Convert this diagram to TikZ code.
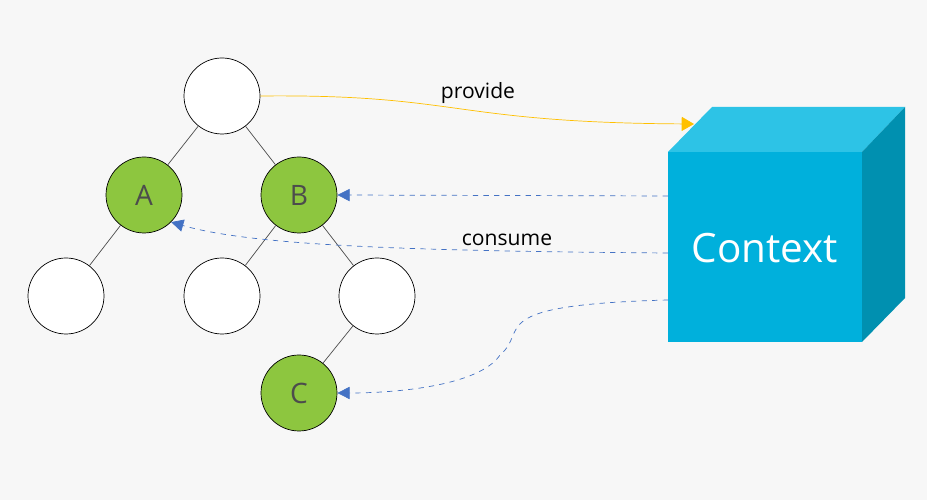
\documentclass[tikz,border=0pt]{standalone}
\usetikzlibrary{positioning,arrows.meta}
\usepackage{fontspec}
\setmainfont{Open Sans}
\definecolor{leaf}{RGB}{141,198,63}
\definecolor{cubefront}{RGB}{0,176,220}
\definecolor{cubetop}{RGB}{45,195,230}
\definecolor{cubeside}{RGB}{0,144,176}
\definecolor{provideline}{RGB}{255,192,0}
\definecolor{consumeline}{RGB}{68,114,196}
\begin{document}
\begin{tikzpicture}[
        treenode/.style={circle, draw, fill=white, minimum size=15.2mm, inner sep=0pt, font=\fontsize{16}{18}\selectfont, text=black!70},
        usenode/.style={treenode, fill=leaf},
        edge/.style={-, draw=black!70},
        provideline/.style={draw=provideline, -{Triangle[length=7pt,width=8pt]}},
        consumeline/.style={draw=consumeline, dashed, -{Triangle[length=7pt,width=7pt]}}
      ]
      \fill[gray!6] (0,0) rectangle (18.54,10);

      % Tree
      \node[treenode] (R)  at (4.44,8.08) {};
      \node[usenode]  (A)  at (2.88,6.10) {A};
      \node[usenode]  (B)  at (5.98,6.10) {B};
      \node[treenode] (AL) at (1.32,4.08) {};
      \node[treenode] (BL) at (4.44,4.08) {};
      \node[treenode] (BR) at (7.54,4.08) {};
      \node[usenode]  (C)  at (5.98,2.14) {C};

      \draw[edge] (R) -- (A);
      \draw[edge] (R) -- (B);
      \draw[edge] (A) -- (AL);
      \draw[edge] (B) -- (BL);
      \draw[edge] (B) -- (BR);
      \draw[edge] (BR) -- (C);

      % Context cube
      \fill[cubetop] (13.36,6.96) -- (14.24,7.86) -- (18.10,7.86) -- (17.24,6.96) -- cycle;
      \fill[cubeside] (17.24,6.96) -- (18.10,7.86) -- (18.10,4.04) -- (17.24,3.16) -- cycle;
      \fill[cubefront] (13.36,3.16) rectangle (17.24,6.96);
      \node[text=white, font=\fontsize{23}{26}\selectfont] (ctx) at (15.30,5.04) {Context};

      \coordinate (pin)  at (13.88,7.52);
      \coordinate (outB) at (13.36,6.08);
      \coordinate (outA) at (13.36,4.94);
      \coordinate (outC) at (13.36,4.00);

      % Provide
      \draw[provideline] (R.east) .. controls (9.2,8.12) and (9.0,7.55) .. (pin);
      \node[font=\fontsize{12}{14}\selectfont] (provide) at (9.56,8.14) {provide};

      % Consume
      \draw[consumeline] (outB) -- (B.east);
      \draw[consumeline] (outA) .. controls (8,4.98) and (5,5.1) .. (A.south east);
      \node[font=\fontsize{12}{14}\selectfont] (consume) at (10.14,5.2) {consume};
      \draw[consumeline] (outC) .. controls (9.6,3.9) and (10.6,3.4) .. (10.0,2.9)
                                .. controls (9.6,2.3) and (8,2.14) .. (C.east);
\end{tikzpicture}
\end{document}
